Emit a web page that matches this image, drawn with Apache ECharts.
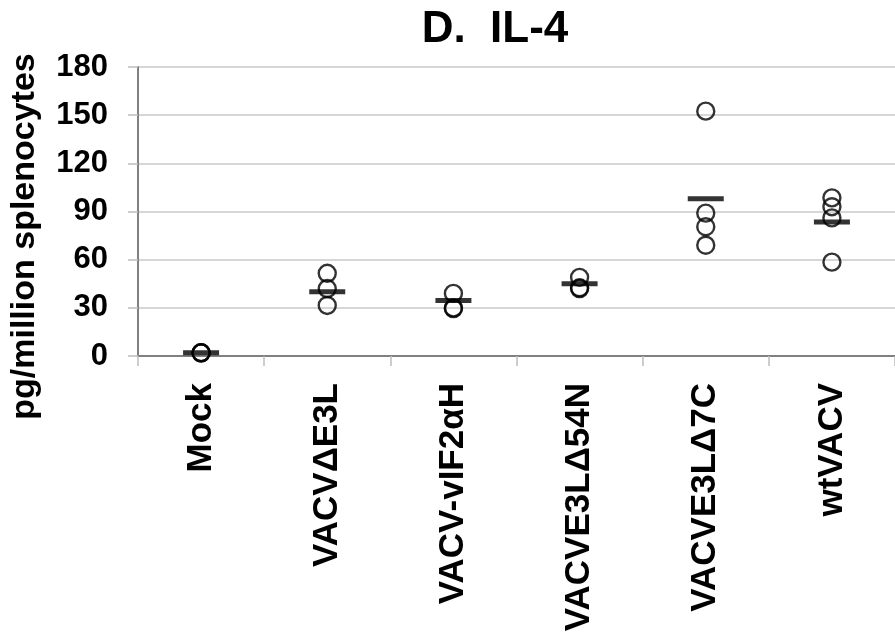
<!DOCTYPE html>
<html>
<head>
<meta charset="utf-8">
<script src="https://cdn.jsdelivr.net/npm/echarts@6/dist/echarts.min.js"></script>
<style>html,body{margin:0;padding:0;background:#fff;}#c{width:895px;height:639px;}</style>
</head>
<body>
<div id="c"></div>
<script>
var categories = ['Mock', 'VACV\u0394E3L', 'VACV-vIF2\u03b1H', 'VACVE3L\u039454N', 'VACVE3L\u03947C', 'wtVACV'];
var mockPoints = [2, 2, 2];
var e3lPoints = [51.5, 42, 31.5];
var vif2Points = [39, 30, 29.5];
var d54nPoints = [49, 42.5, 42];
var d7cPoints = [152.5, 89, 80.5, 69];
var wtPoints = [98.5, 93, 86, 58.5];
var groupMeans = [2, 40, 34.5, 45, 98, 83.5];
var yTicks = [0, 30, 60, 90, 120, 150, 180];

var groups = [mockPoints, e3lPoints, vif2Points, d54nPoints, d7cPoints, wtPoints];
var pointData = [];
groups.forEach(function (g, i) { g.forEach(function (v) { pointData.push([i, v]); }); });
var meanData = groupMeans.map(function (v, i) { return [i, v]; });

var FONT = 'Liberation Sans, Arial, Helvetica, sans-serif';
var chart = echarts.init(document.getElementById('c'), null, {renderer: 'canvas'});
chart.setOption({
  animation: false,
  backgroundColor: '#ffffff',
  title: {
    text: 'D.  IL-4',
    left: 490,
    top: 3,
    textAlign: 'center',
    textStyle: {fontFamily: FONT, fontSize: 44, fontWeight: 'bold', color: '#000'}
  },
  grid: {left: 138, top: 67, bottom: 283, width: 766, containLabel: false},
  xAxis: {
    type: 'category',
    data: categories,
    boundaryGap: true,
    axisLine: {show: true, lineStyle: {color: '#808080', width: 2}},
    axisTick: {show: true, length: 10, lineStyle: {color: '#bdbdbd', width: 1.5}},
    axisLabel: {interval: 0, rotate: 90, margin: 27, fontFamily: FONT, fontSize: 35, fontWeight: 'bold', color: '#000'},
    splitLine: {show: false}
  },
  yAxis: {
    type: 'value',
    min: yTicks[0],
    max: yTicks[yTicks.length - 1],
    interval: 30,
    name: 'pg/million splenocytes',
    nameLocation: 'middle',
    nameRotate: 90,
    nameGap: 96,
    nameTextStyle: {fontFamily: FONT, fontSize: 34, fontWeight: 'bold', color: '#000', padding: [0, 50, 0, 0]},
    axisLine: {show: true, lineStyle: {color: '#808080', width: 2}},
    axisTick: {show: true, length: 10, lineStyle: {color: '#bdbdbd', width: 1.5}},
    axisLabel: {margin: 30, fontFamily: FONT, fontSize: 31, fontWeight: 'bold', color: '#000'},
    splitLine: {show: true, lineStyle: {color: '#c8c8c8', width: 1.5}}
  },
  series: [
    {
      type: 'scatter',
      data: pointData,
      symbol: 'circle',
      symbolSize: 17,
      itemStyle: {color: 'rgba(0,0,0,0)', borderColor: '#000', borderWidth: 2.4},
      z: 2
    },
    {
      type: 'scatter',
      data: meanData,
      symbol: 'rect',
      symbolSize: [36, 5],
      itemStyle: {color: '#000'},
      z: 3
    }
  ]
});
</script>
</body>
</html>
